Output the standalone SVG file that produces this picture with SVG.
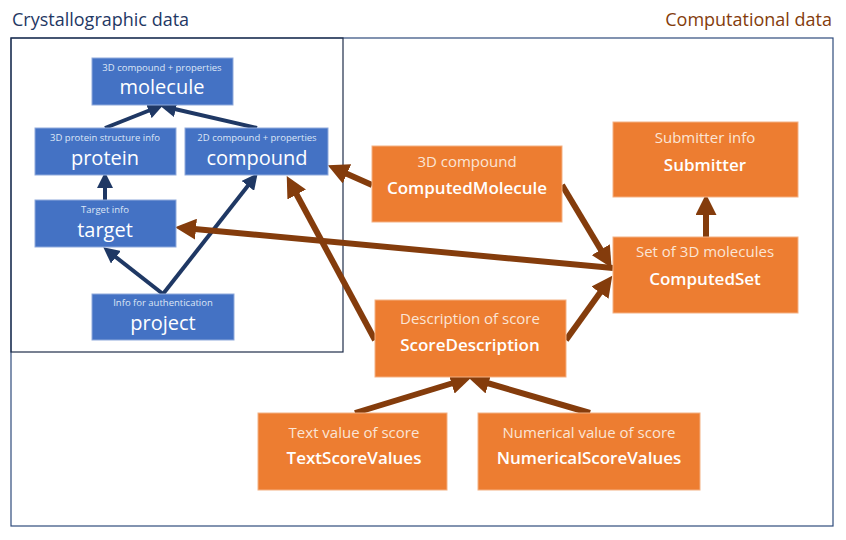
<svg xmlns="http://www.w3.org/2000/svg" width="846" height="540" viewBox="0 0 846 540">
<style>
text{font-family:"Open Sans","Liberation Sans",sans-serif;fill:#fff;text-anchor:middle}
.b rect{fill:#4472C4;stroke:#8FAADC;stroke-width:1}
.o rect{fill:#ED7D31;stroke:#F4B183;stroke-width:1}
.s{font-size:9.5px;fill:#DDE6F6}
.l{font-size:20px}
.os{font-size:15px;fill:#FBE5D6}
.ol{font-size:17px;font-weight:600}
.bl{stroke:#1F3864;stroke-width:4;fill:none;marker-end:url(#ab)}
.br{stroke:#843C0C;stroke-width:6;fill:none;marker-end:url(#ao)}
</style>
<defs>
<marker id="ab" markerWidth="4" markerHeight="4" refX="2.5" refY="2" orient="auto"><path d="M0,0L4,2L0,4z" fill="#1F3864"/></marker>
<marker id="ao" markerWidth="3.5" markerHeight="3.5" refX="2" refY="1.75" orient="auto"><path d="M0,0L3.5,1.75L0,3.5z" fill="#843C0C"/></marker>
</defs>
<rect width="846" height="540" fill="#fff"/>
<rect x="11" y="38" width="822" height="488" fill="none" stroke="#2F4B7C" stroke-width="1.2"/>
<rect x="11" y="38" width="332" height="314" fill="none" stroke="#1F2D4A" stroke-width="1.2"/>
<text x="12" y="26" style="text-anchor:start;font-size:18px;fill:#1F3864">Crystallographic data</text>
<text x="832" y="26" style="text-anchor:end;font-size:18px;fill:#843C0C">Computational data</text>
<g id="connectors">
<path class="bl" d="M105,128L158,107"/>
<path class="bl" d="M257,128L166,107"/>
<path class="bl" d="M105,200L105,178"/>
<path class="bl" d="M163,294L108,251"/>
<path class="bl" d="M163,294L254,178"/>
<path class="br" d="M372,185L336,169"/>
<path class="br" d="M562,185L607,260"/>
<path class="br" d="M613,268L184,228"/>
<path class="br" d="M375,340L291,184"/>
<path class="br" d="M566,340L607,283"/>
<path class="br" d="M706,237L706,203"/>
<path class="br" d="M355,413L463,380"/>
<path class="br" d="M590,413L477,380"/>
</g>
<g id="molecule" class="b"><rect x="92" y="58" width="141" height="47"/><text class="s" x="162" y="71">3D compound + properties</text><text class="l" x="162" y="94">molecule</text></g>
<g id="protein" class="b"><rect x="35" y="128" width="141" height="47"/><text class="s" x="105" y="141">3D protein structure info</text><text class="l" x="105" y="165">protein</text></g>
<g id="compound" class="b"><rect x="185" y="128" width="143" height="47"/><text class="s" x="257" y="141">2D compound + properties</text><text class="l" x="257" y="165">compound</text></g>
<g id="target" class="b"><rect x="35" y="200" width="141" height="47"/><text class="s" x="105" y="213">Target info</text><text class="l" x="105" y="237">target</text></g>
<g id="project" class="b"><rect x="92" y="294" width="142" height="46"/><text class="s" x="163" y="306">Info for authentication</text><text class="l" x="163" y="330">project</text></g>
<g id="ComputedMolecule" class="o"><rect x="372" y="146" width="190" height="76"/><text class="os" x="467" y="167">3D compound</text><text class="ol" x="467" y="194">ComputedMolecule</text></g>
<g id="Submitter" class="o"><rect x="613" y="122" width="185" height="75"/><text class="os" x="705" y="143">Submitter info</text><text class="ol" x="705" y="171">Submitter</text></g>
<g id="ComputedSet" class="o"><rect x="613" y="237" width="185" height="76"/><text class="os" x="705" y="257">Set of 3D molecules</text><text class="ol" x="705" y="285">ComputedSet</text></g>
<g id="ScoreDescription" class="o"><rect x="375" y="300" width="191" height="77"/><text class="os" x="470" y="324">Description of score</text><text class="ol" x="470" y="351">ScoreDescription</text></g>
<g id="TextScoreValues" class="o"><rect x="258" y="413" width="189" height="77"/><text class="os" x="354" y="438">Text value of score</text><text class="ol" x="354" y="464">TextScoreValues</text></g>
<g id="NumericalScoreValues" class="o"><rect x="478" y="413" width="222" height="77"/><text class="os" x="589" y="438">Numerical value of score</text><text class="ol" x="589" y="464">NumericalScoreValues</text></g>
</svg>
